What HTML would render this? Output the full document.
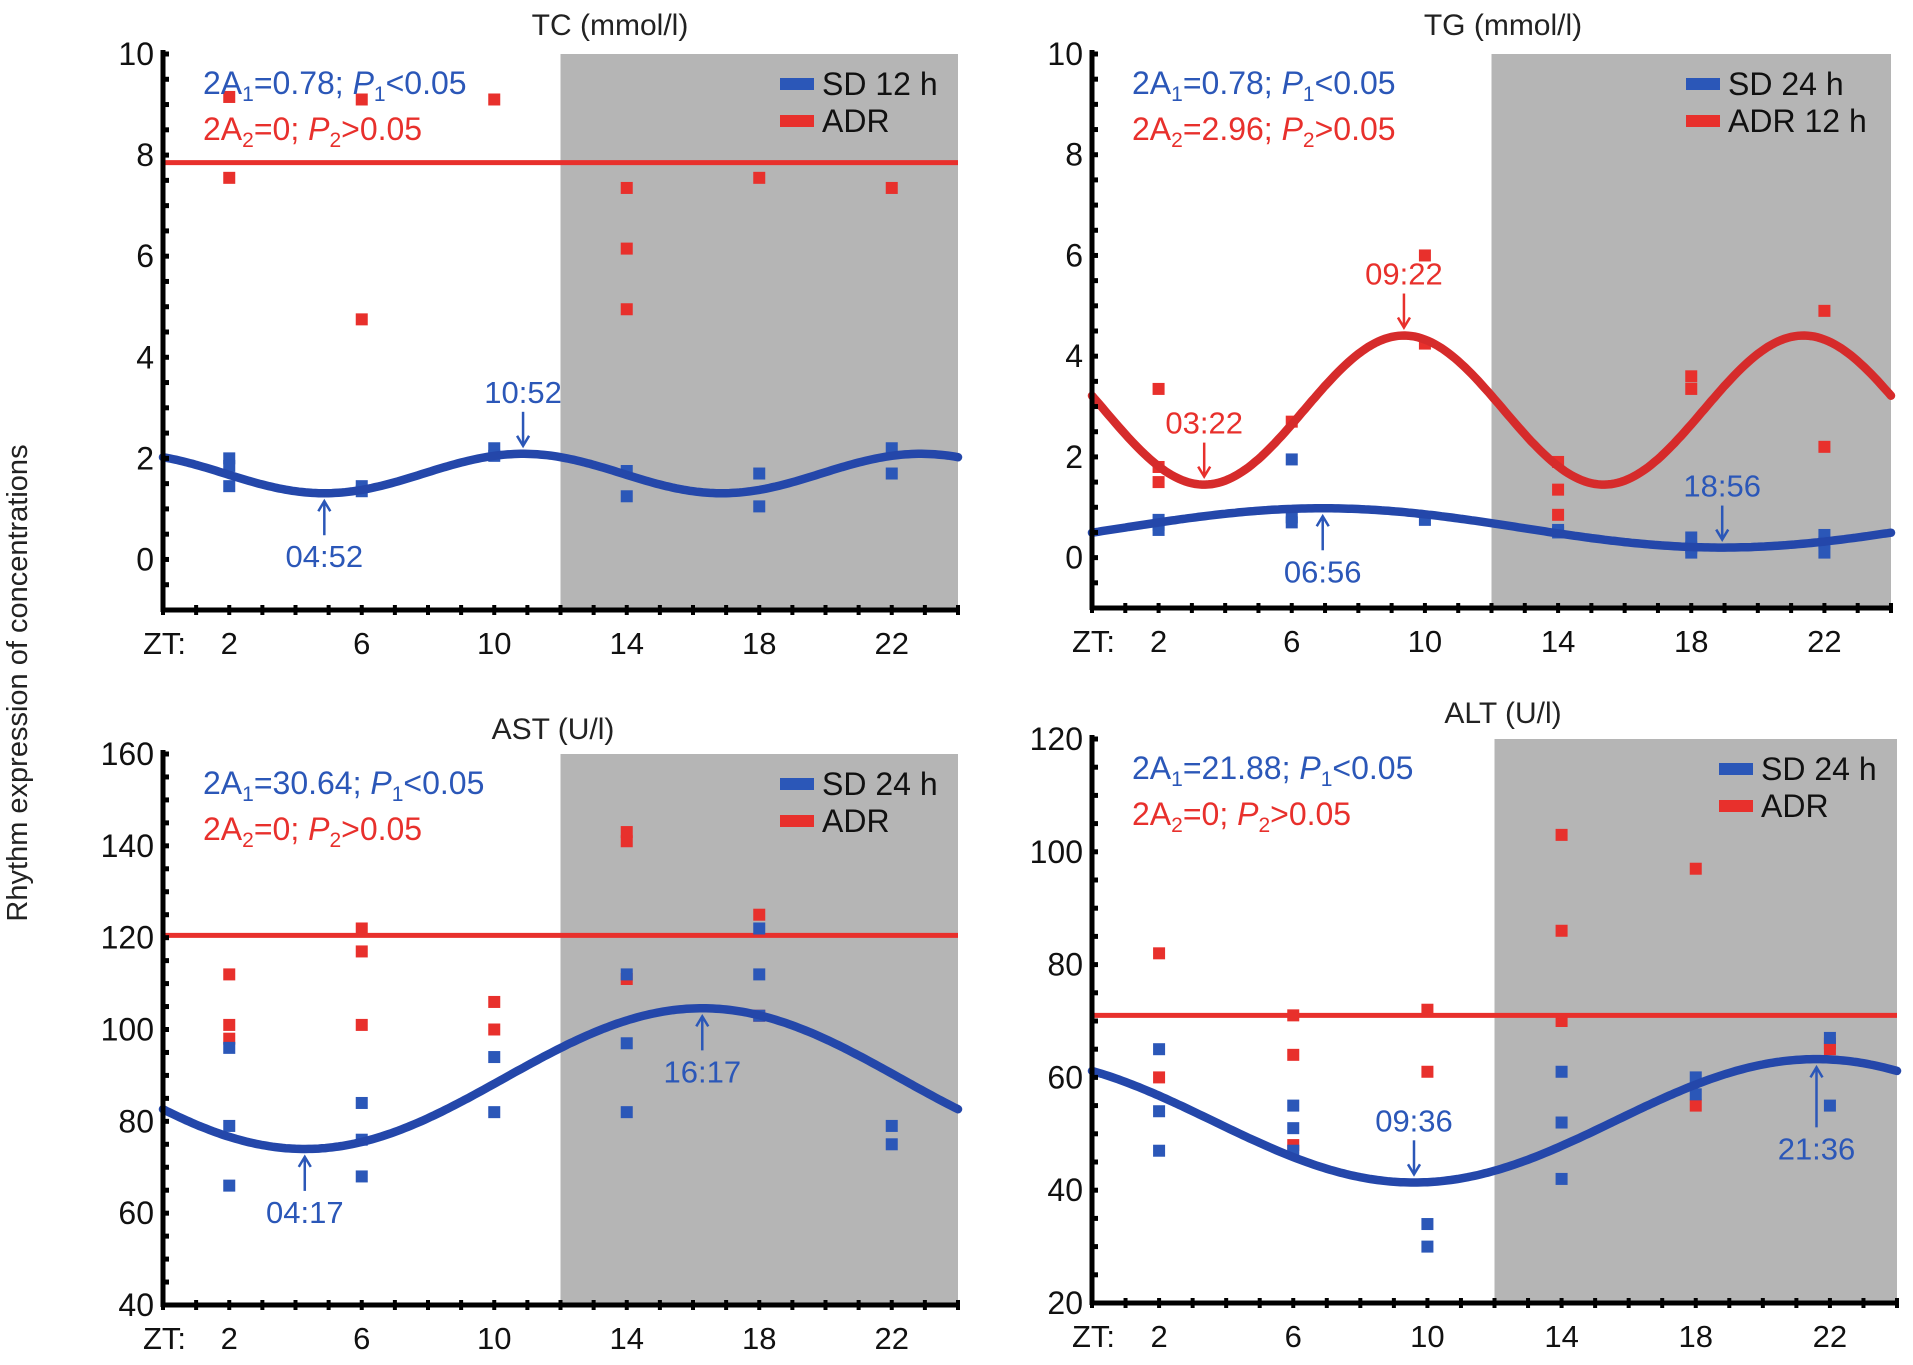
<!DOCTYPE html>
<html><head><meta charset="utf-8"><style>
html,body{margin:0;padding:0;background:#fff;}
svg{display:block;font-family:"Liberation Sans",Arial,sans-serif;}
</style></head><body>
<svg id="fig" width="1913" height="1365" viewBox="0 0 1913 1365">
<text x="27" y="683" transform="rotate(-90 27 683)" text-anchor="middle" font-size="29" fill="#222">Rhythm expression of concentrations</text>
</svg>
<script>
// ---- TC data ----
const tcRedX = [2,2,6,6,10,14,14,14,18,22];
const tcRedY = [9.15,7.55,9.1,4.75,9.1,7.35,6.15,4.95,7.55,7.35];
const tcBlueX = [2,2,2,6,6,10,10,14,14,18,18,22,22];
const tcBlueY = [2.0,1.85,1.45,1.45,1.35,2.2,2.05,1.75,1.25,1.7,1.05,2.2,1.7];
const tcRedLine = 7.85;
const tcBlueFit = [1.7, 0.39, 10.87, 12]; // mesor, amplitude, acrophase(h), period
// ---- TG data ----
const tgRedX = [2,2,2,6,10,10,14,14,14,18,18,22,22];
const tgRedY = [3.35,1.8,1.5,2.7,6.0,4.25,1.9,1.35,0.85,3.6,3.35,4.9,2.2];
const tgBlueX = [2,2,2,6,6,6,10,14,14,18,18,18,22,22,22];
const tgBlueY = [0.75,0.65,0.55,1.95,0.8,0.7,0.75,0.55,0.5,0.4,0.2,0.1,0.45,0.3,0.1];
const tgRedFit = [2.93, 1.48, 9.37, 12];
const tgBlueFit = [0.59, 0.39, 6.93, 24];
// ---- AST data ----
const astRedX = [2,2,2,6,6,6,10,10,14,14,14,18,18];
const astRedY = [112,101,98,122,117,101,106,100,143,141,111,125,103];
const astBlueX = [2,2,2,6,6,6,10,10,14,14,14,18,18,18,22,22];
const astBlueY = [96,79,66,84,76,68,94,82,112,97,82,122,112,103,79,75];
const astRedLine = 120.5;
const astBlueFit = [89.3, 15.32, 16.28, 24];
// ---- ALT data ----
const altRedX = [2,2,6,6,6,10,10,14,14,14,18,18,22,22];
const altRedY = [82,60,71,64,48,72,61,103,86,70,97,55,66,65];
const altBlueX = [2,2,2,6,6,6,10,10,14,14,14,18,18,22,22];
const altBlueY = [65,54,47,55,51,47,34,30,61,52,42,60,57,67,55];
const altRedLine = 71;
const altBlueFit = [52.3, 10.94, 21.6, 24];
const xTicks = [2,6,10,14,18,22];

const NS="http://www.w3.org/2000/svg";
const svg=document.getElementById('fig');
const BLUE="#2b57b8", RED="#e8302c", CBLUE="#2447aa", CRED="#d62b2b";
function mk(tag,attrs,parent){const e=document.createElementNS(NS,tag);for(const k in attrs)e.setAttribute(k,attrs[k]);(parent||svg).appendChild(e);return e;}

function panel(p){
  const g=mk('g',{});
  
  
  const sx=v=>p.x0+(v/24)*(p.x1-p.x0);
  const sy=v=>p.yb+(v-p.ymin)/(p.ymax-p.ymin)*(p.yt-p.yb);
  const sh=mk('rect',{x:sx(12),y:p.yt,width:p.x1-sx(12),height:p.yb-p.yt,fill:"#b5b5b5"},g);
  
  
  const t=mk('text',{x:p.tx,y:p.ty,'text-anchor':'middle','font-size':30,fill:'#222'},g);
  t.textContent=p.title;
  
  
  if(p.redLine!==undefined){
    const l=mk('line',{x1:p.x0,x2:p.x1,y1:sy(p.redLine),y2:sy(p.redLine),stroke:RED,'stroke-width':5},g);
    
    
  }
  const pts=(xs,ys,c,n)=>{xs.forEach((x,i)=>{const r=mk('rect',{x:sx(x)-6,y:sy(ys[i])-6,width:12,height:12,fill:c},g);
    
    });};
  pts(p.redX,p.redY,RED,'adr-point');
  pts(p.blueX,p.blueY,BLUE,'sd-point');
  const curve=(f,c,n)=>{let d='';for(let i=0;i<=240;i++){const h=i/10;const v=f[0]+f[1]*Math.cos(2*Math.PI*(h-f[2])/f[3]);d+=(i?'L':'M')+sx(h).toFixed(1)+' '+sy(v).toFixed(1);}
    const pa=mk('path',{d:d,fill:'none',stroke:c,'stroke-width':8.5,'stroke-linecap':'round'},g);
    
    };
  if(p.redFit)curve(p.redFit,CRED,'adr-cosinor-curve');
  if(p.blueFit)curve(p.blueFit,CBLUE,'sd-cosinor-curve');
  mk('line',{x1:p.x0,x2:p.x0,y1:p.yt-4,y2:p.yb+2,stroke:'#000','stroke-width':5},g);
  mk('line',{x1:p.x0-2,x2:p.x1,y1:p.yb,y2:p.yb,stroke:'#000','stroke-width':5},g);
  for(let v=p.ymin;v<=p.ymax+1e-9;v+=p.minor){mk('line',{x1:p.x0,x2:p.x0+6,y1:sy(v),y2:sy(v),stroke:'#000','stroke-width':5},g);}
  p.yTicks.forEach(v=>{const tt=mk('text',{x:p.x0-9,y:sy(v)+11,'text-anchor':'end','font-size':32,fill:'#111'},g);tt.textContent=v;
    
    });
  for(let h=0;h<=24;h++){mk('line',{x1:sx(h),x2:sx(h),y1:p.yb-5,y2:p.yb+5,stroke:'#000','stroke-width':4},g);}
  const zt=mk('text',{x:sx(0)-20,y:p.yb+44,'font-size':31,fill:'#111'},g);zt.textContent='ZT:';
  xTicks.forEach(h=>{const tt=mk('text',{x:sx(h),y:p.yb+44,'text-anchor':'middle','font-size':31,fill:'#111'},g);tt.textContent=h;
    
    });
  const s1=mk('text',{x:p.x0+40,y:p.yt+40,'font-size':32,fill:BLUE},g);
  s1.innerHTML='2A<tspan font-size="21" dy="7">1</tspan><tspan dy="-7">='+p.s1+'; </tspan><tspan font-style="italic">P</tspan><tspan font-size="21" dy="7">1</tspan><tspan dy="-7">&lt;0.05</tspan>';
  
  
  const s2=mk('text',{x:p.x0+40,y:p.yt+86,'font-size':32,fill:RED},g);
  s2.innerHTML='2A<tspan font-size="21" dy="7">2</tspan><tspan dy="-7">='+p.s2+'; </tspan><tspan font-style="italic">P</tspan><tspan font-size="21" dy="7">2</tspan><tspan dy="-7">&gt;0.05</tspan>';
  
  
  const lx=p.x1-p.legW;
  [[p.leg1,BLUE,'legend-entry-sd'],[p.leg2,RED,'legend-entry-adr']].forEach((e,i)=>{
    const ly=p.yt+30+i*37;
    const lg=mk('g',{},g);
    
    
    mk('rect',{x:lx,y:ly-6,width:34,height:12,fill:e[1]},lg);
    const lt=mk('text',{x:lx+42,y:ly+11,'font-size':32,fill:'#111'},lg);lt.textContent=e[0];
  });
  p.ann.forEach(a=>{
    const c=a[3]==='r'?RED:BLUE;
    const x=sx(a[1]),y=sy(a[2]);
    const L=a[5]||34;
    const ag=mk('g',{},g);
    
    
    if(a[4]==='up'){
      mk('line',{x1:x,x2:x,y1:y+8,y2:y+8+L,stroke:c,'stroke-width':2.5},ag);
      mk('path',{d:`M${x-6} ${y+18}L${x} ${y+8}L${x+6} ${y+18}`,fill:'none',stroke:c,'stroke-width':2.5},ag);
      const tt=mk('text',{x:x,y:y+L+40,'text-anchor':'middle','font-size':31,fill:c},ag);tt.textContent=a[0];
    } else {
      mk('line',{x1:x,x2:x,y1:y-8,y2:y-8-L,stroke:c,'stroke-width':2.5},ag);
      mk('path',{d:`M${x-6} ${y-18}L${x} ${y-8}L${x+6} ${y-18}`,fill:'none',stroke:c,'stroke-width':2.5},ag);
      const tt=mk('text',{x:x,y:y-L-17,'text-anchor':'middle','font-size':31,fill:c},ag);tt.textContent=a[0];
    }
  });
}
panel({name:'tc-panel',title:'TC (mmol/l)',tx:610,ty:35,x0:163,x1:958,yt:54,yb:610,ymin:-1,ymax:10,minor:0.5,yTicks:[0,2,4,6,8,10],legW:178,
  redX:tcRedX,redY:tcRedY,blueX:tcBlueX,blueY:tcBlueY,redLine:tcRedLine,blueFit:tcBlueFit,s1:'0.78',s2:'0',leg1:'SD 12 h',leg2:'ADR',
  ann:[['04:52',4.87,1.31,'b','up'],['10:52',10.87,2.09,'b','down']]});
panel({name:'tg-panel',title:'TG (mmol/l)',tx:1503,ty:35,x0:1092,x1:1891,yt:54,yb:608,ymin:-1,ymax:10,minor:0.5,yTicks:[0,2,4,6,8,10],legW:205,
  redX:tgRedX,redY:tgRedY,blueX:tgBlueX,blueY:tgBlueY,redFit:tgRedFit,blueFit:tgBlueFit,s1:'0.78',s2:'2.96',leg1:'SD 24 h',leg2:'ADR 12 h',
  ann:[['03:22',3.37,1.45,'r','down'],['09:22',9.37,4.41,'r','down'],['06:56',6.93,0.98,'b','up'],['18:56',18.93,0.2,'b','down']]});
panel({name:'ast-panel',title:'AST (U/l)',tx:553,ty:739,x0:163,x1:958,yt:754,yb:1305,ymin:40,ymax:160,minor:5,yTicks:[40,60,80,100,120,140,160],legW:178,
  redX:astRedX,redY:astRedY,blueX:astBlueX,blueY:astBlueY,redLine:astRedLine,blueFit:astBlueFit,s1:'30.64',s2:'0',leg1:'SD 24 h',leg2:'ADR',
  ann:[['04:17',4.28,74,'b','up'],['16:17',16.28,104.6,'b','up']]});
panel({name:'alt-panel',title:'ALT (U/l)',tx:1503,ty:723,x0:1092,x1:1897,yt:739,yb:1303,ymin:20,ymax:120,minor:5,yTicks:[20,40,60,80,100,120],legW:178,
  redX:altRedX,redY:altRedY,blueX:altBlueX,blueY:altBlueY,redLine:altRedLine,blueFit:altBlueFit,s1:'21.88',s2:'0',leg1:'SD 24 h',leg2:'ADR',
  ann:[['09:36',9.6,41.4,'b','down'],['21:36',21.6,63.2,'b','up',60]]});
</script>
</body></html>
